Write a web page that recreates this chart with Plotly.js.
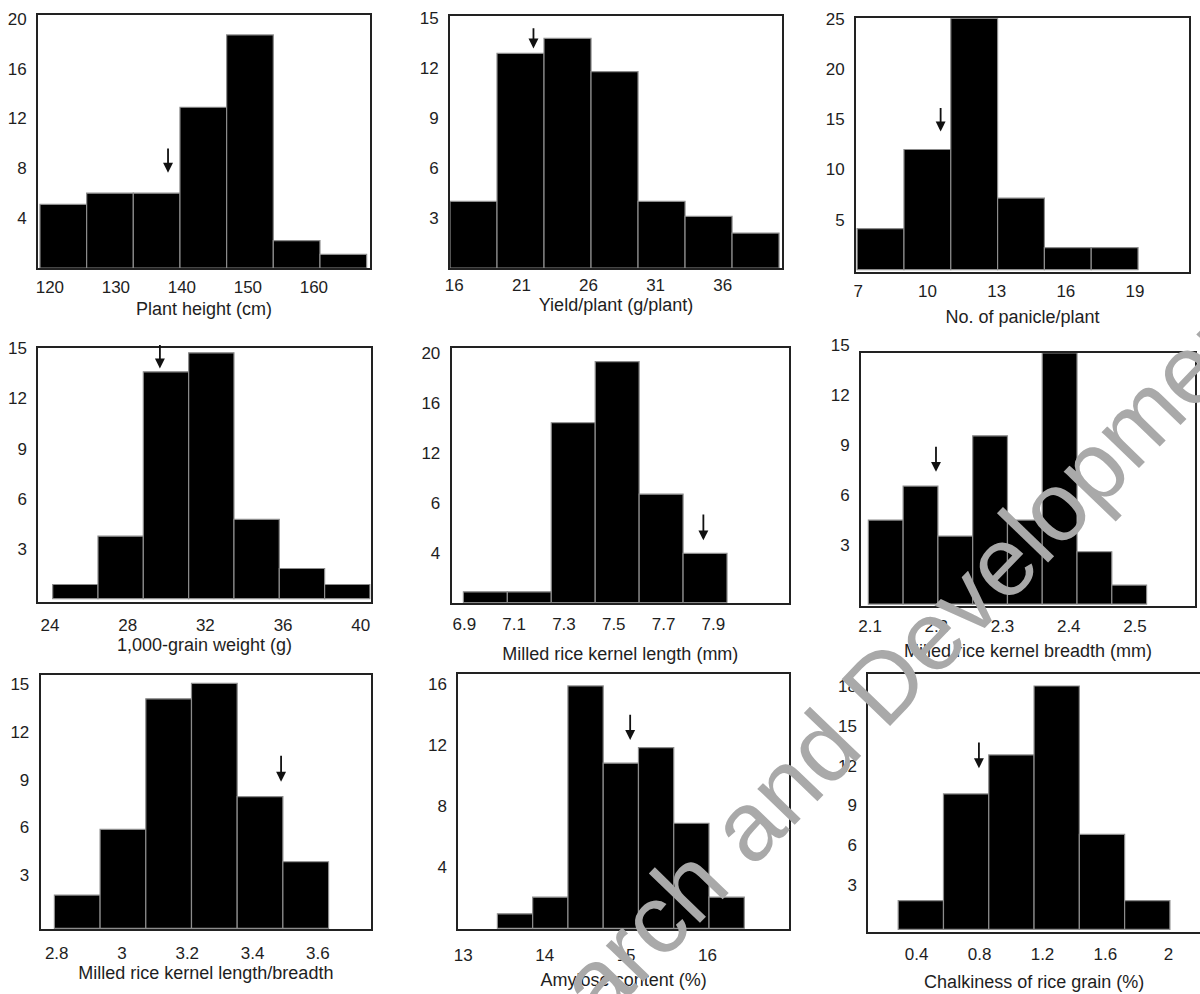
<!DOCTYPE html>
<html>
<head>
<meta charset="utf-8">
<script src="https://cdn.plot.ly/plotly-3.0.1.min.js"></script>
<style>html,body{margin:0;padding:0;background:#fff;}#chart{width:1200px;height:994px;}</style>
</head>
<body>
<div id="chart"></div>
<script>
// ---- data (frequency histograms) ----
const axisTitles = [
  "Plant height (cm)", "Yield/plant (g/plant)", "No. of panicle/plant",
  "1,000-grain weight (g)", "Milled rice kernel length (mm)", "Milled rice kernel breadth (mm)",
  "Milled rice kernel length/breadth", "Amylose content (%)", "Chalkiness of rice grain (%)"
];
// first bin edge and bin width of each histogram
const binStart = [118.5, 15.68, 6.95, 24.14, 6.896, 2.0975, 2.793, 13.42, 0.283];
const binWidth = [7.07, 3.503, 2.03, 2.333, 0.1765, 0.0525, 0.14, 0.433, 0.2878];
// frequencies
const plantHeight   = [5.1, 6, 6, 12.9, 18.7, 2.2, 1.1];
const yieldPlant    = [4.0, 12.9, 13.8, 11.8, 4.0, 3.1, 2.1];
const panicles      = [4.1, 12.0, 25.1, 7.15, 2.2, 2.2];
const grainWeight   = [0.85, 3.75, 13.6, 14.74, 4.75, 1.81, 0.85];
const kernelLength  = [0.87, 0.87, 14.43, 19.33, 8.7, 3.95];
const kernelBreadth = [5.04, 7.08, 4.08, 10.1, 5.04, 15.08, 3.14, 1.14];
const lengthBreadth = [2.08, 6.2, 14.37, 15.34, 8.24, 4.17];
const amylose       = [0.94, 2.03, 15.86, 10.8, 11.82, 6.87, 2.03];
const chalkiness    = [2.15, 10.17, 13.1, 18.28, 7.14, 2.15];
const counts = [plantHeight, yieldPlant, panicles, grainWeight, kernelLength,
                kernelBreadth, lengthBreadth, amylose, chalkiness];
// mean arrows: x position, tail y, head y
const arrowX    = [137.9, 21.9, 10.57, 29.66, 7.86, 2.1996, 3.4875, 15.05, 0.796];
const arrowTail = [9.7, 14.5, 16.3, 15.3, 7.2, 9.54, 10.9, 14.07, 14.15];
const arrowHead = [7.65, 13.2, 13.8, 13.8, 5.0, 7.94, 9.18, 12.32, 12.1];
// tick values / labels
const xTicks = [
  [120, 130, 140, 150, 160], [16, 21, 26, 31, 36], [7, 10, 13, 16, 19],
  [24, 28, 32, 36, 40], [6.9, 7.1, 7.3, 7.5, 7.7, 7.9], [2.1, 2.2, 2.3, 2.4, 2.5],
  [2.8, 3, 3.2, 3.4, 3.6], [13, 14, 15, 16], [0.4, 0.8, 1.2, 1.6, 2]
];
const yTicks = [
  [4, 8, 12, 16, 20], [3, 6, 9, 12, 15], [5, 10, 15, 20, 25],
  [3, 6, 9, 12, 15], [4, 8, 12, 16, 20], [3, 6, 9, 12, 15],
  [3, 6, 9, 12, 15], [4, 8, 12, 16], [3, 6, 9, 12, 15, 18]
];
const yTickText = [
  null, null, null, null, ["4", "6", "12", "16", "20"], null, null, null, null
];

// ---- layout (pixels) ----
const W = 1200, H = 994;
const boxes = [ // left, right, top, bottom in px
  [38, 370, 15, 268], [450, 782, 16, 268], [856, 1189, 18.3, 271.7],
  [38.3, 370.7, 348.3, 601.7], [451.7, 789, 348.3, 602.7], [861, 1195, 352.7, 605.7],
  [40.7, 371, 675, 929.3], [458.3, 789, 674.3, 929.3], [868.3, 1200, 674.3, 931.7]
];
const xRanges = [[118.2, 168.5], [15.68, 40.42], [6.9, 21.34], [23.4, 40.51], [6.849, 8.204],
                 [2.0864, 2.5906], [2.751, 3.763], [12.94, 17.0], [0.093, 2.201]];
const yRanges = [[0, 20.3], [0, 15.15], [-0.2, 25.1], [-0.18, 15.01], [0, 20.4],
                 [-0.1, 15.09], [-0.06, 15.86], [-0.07, 16.62], [-0.18, 19.16]];
const yLabelShift = [0, 0, 0, 0, 0, -9, -5, 0, -4];
const xLabelStandoff = [3, 1, 3, 7, 5, 4, 7, 9, 6];
const titleStandoff = [6, 4, 10, 0, 14, 9, 4, 10, 12];

const FONT = "Liberation Sans, Arial, Helvetica, sans-serif";
const TXT = "#1e1e1e";
const traces = [];
const layout = {
  width: W, height: H,
  margin: {l: 0, r: 0, t: 0, b: 0},
  paper_bgcolor: "#ffffff", plot_bgcolor: "#ffffff",
  showlegend: false,
  font: {family: FONT, color: TXT, size: 17},
  annotations: []
};

counts.forEach((vals, i) => {
  const n = i + 1;
  const xa = n === 1 ? "xaxis" : "xaxis" + n;
  const ya = n === 1 ? "yaxis" : "yaxis" + n;
  const xr = n === 1 ? "x" : "x" + n;
  const yr = n === 1 ? "y" : "y" + n;
  const centers = vals.map((_, k) => binStart[i] + binWidth[i] * (k + 0.5));
  traces.push({
    type: "bar", x: centers, y: vals, width: binWidth[i],
    xaxis: xr, yaxis: yr,
    marker: {color: "#000000", line: {color: "#8c8c8c", width: 1.2}},
    hoverinfo: "x+y"
  });
  const b = boxes[i];
  layout[xa] = {
    domain: [b[0] / W, b[1] / W], anchor: yr, range: xRanges[i],
    tickmode: "array", tickvals: xTicks[i], ticks: "",
    ticklabelstandoff: xLabelStandoff[i],
    showgrid: false, zeroline: false,
    showline: true, mirror: true, linecolor: "#222", linewidth: 2,
    tickfont: {size: 17, family: FONT, color: TXT},
    title: {text: axisTitles[i], font: {size: 18, family: FONT, color: TXT}, standoff: titleStandoff[i]}
  };
  const yax = {
    domain: [1 - b[3] / H, 1 - b[2] / H], anchor: xr, range: yRanges[i],
    tickmode: "array", tickvals: yTicks[i], ticks: "",
    ticklabelstandoff: 6, ticklabelshift: yLabelShift[i],
    showgrid: false, zeroline: false,
    showline: true, mirror: true, linecolor: "#222", linewidth: 2,
    tickfont: {size: 17, family: FONT, color: TXT}
  };
  if (yTickText[i]) yax.ticktext = yTickText[i];
  layout[ya] = yax;
  layout.annotations.push({
    x: arrowX[i], y: arrowHead[i], xref: xr, yref: yr,
    ax: arrowX[i], ay: arrowTail[i], axref: xr, ayref: yr,
    text: "", showarrow: true, arrowhead: 2, arrowsize: 1.1, arrowwidth: 1.8,
    arrowcolor: "#111"
  });
});

// publisher watermark over the figure (partly outside the picture, as in the reference)
layout.annotations.push({
  xref: "paper", yref: "paper", x: 839 / W, y: 1 - 730 / H,
  text: "Research and Development", showarrow: false, textangle: -46,
  font: {family: FONT, size: 98, color: "#a9a9a9"},
  xanchor: "center", yanchor: "middle"
});

Plotly.newPlot("chart", traces, layout, {displayModeBar: false, staticPlot: true});
</script>
</body>
</html>
